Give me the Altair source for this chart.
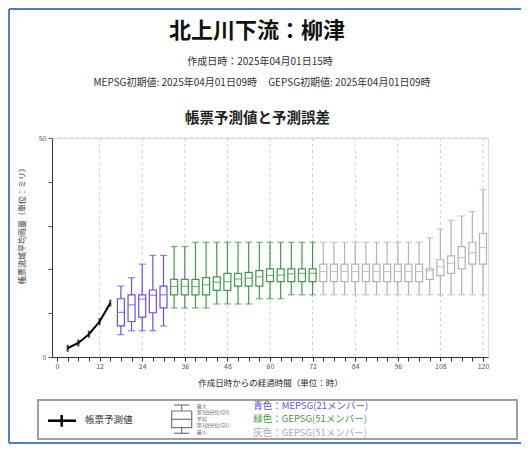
import altair as alt
import pandas as pd

# ---- data ----
OBS_HOURS = [3, 6, 9, 12, 15]
OBS_VALUES = [2.0, 3.2, 5.2, 8.1, 12.3]

BOX_HOURS = list(range(18, 121, 3))
BOX_GROUP = ["MEPSG"] * 5 + ["GEPSG"] * 14 + ["GEPSG2"] * 16
BOX_MAX = [16.2, 18.1, 21.2, 23.2, 23.2,
           25.2, 25.2, 26.2, 26.2, 26.2, 26.2, 26.2, 26.2, 26.2, 26.2, 26.2, 26.2, 26.2, 26.2,
           26.2, 26.2, 26.2, 26.2, 26.2, 26.2, 26.2, 26.2, 26.2, 26.2, 27.2, 29.2, 31.2, 32.2, 33.2, 38.2]
BOX_Q3 = [13.3, 14.2, 14.2, 15.3, 16.2,
          17.7, 17.7, 17.7, 18.1, 18.3, 19.1, 19.1, 19.3, 19.7, 20.1, 20.1, 20.1, 20.1, 20.1,
          21.2, 21.2, 21.2, 21.2, 21.2, 21.2, 21.2, 21.2, 21.2, 21.2, 20.1, 22.2, 23.1, 25.2, 26.2, 28.2]
BOX_MED = [10.2, 11.9, 13.2, 14.1, 14.2,
           16.1, 16.1, 16.1, 16.5, 17.1, 17.2, 17.8, 18.0, 18.3, 18.6, 18.7, 19.0, 19.1, 19.1,
           19.5, 19.5, 19.5, 19.5, 19.5, 19.5, 19.5, 19.5, 19.5, 19.5, 19.7, 20.6, 21.4, 22.7, 23.8, 25.0]
BOX_Q1 = [7.1, 8.1, 9.1, 10.1, 11.2,
          14.2, 14.2, 14.2, 14.2, 15.2, 15.2, 16.2, 16.2, 16.2, 17.2, 17.2, 17.2, 17.2, 17.2,
          17.2, 17.2, 17.2, 17.2, 17.2, 17.2, 17.2, 17.2, 17.2, 17.2, 17.7, 18.6, 19.1, 20.1, 21.2, 21.2]
BOX_MIN = [5.1, 6.0, 6.0, 6.0, 7.1,
           11.2, 11.2, 11.2, 11.2, 12.1, 12.1, 12.1, 12.1, 13.3, 13.3, 13.3, 14.2, 14.2, 14.2,
           14.2, 14.2, 14.2, 14.2, 14.2, 14.2, 14.2, 14.2, 14.2, 14.2, 14.2, 14.2, 14.2, 14.2, 14.2, 14.2]

GRID_X = list(range(12, 121, 12))
GRID_Y = [50]
X_TICKS = list(range(0, 121, 3))
Y_TICKS = list(range(0, 51, 10))

GROUPS = ["MEPSG", "GEPSG", "GEPSG2"]
GROUP_COLORS = ["#6a4fe6", "#3f9a4c", "#b3b3b3"]

FONT = "Noto Sans CJK JP"
NB = "\u00a0"

obs = pd.DataFrame({"hour": OBS_HOURS, "value": OBS_VALUES})
box = pd.DataFrame({"hour": BOX_HOURS, "group": BOX_GROUP, "mx": BOX_MAX, "q3": BOX_Q3,
                    "med": BOX_MED, "q1": BOX_Q1, "mn": BOX_MIN})
one = pd.DataFrame({"k": [0]})

xscale = alt.Scale(domain=[0, 120], nice=False)
yscale = alt.Scale(domain=[0, 50], nice=False)
xaxis = alt.Axis(values=X_TICKS, labelExpr="datum.value % 12 == 0 ? datum.label : ''",
                 grid=False, tickSize=4, labelFontSize=7, labelColor="#555", labelPadding=1,
                 domainColor="#333", tickColor="#333", titleFontSize=8.5, titleFontWeight="normal",
                 titleColor="#222", titlePadding=9, labelFlush=False)
yaxis = alt.Axis(values=Y_TICKS, labelExpr="datum.value == 0 || datum.value == 50 ? datum.label : ''",
                 grid=False, tickSize=4, labelFontSize=7, labelColor="#555", labelPadding=2,
                 domainColor="#333", tickColor="#555", title=None)
XT = "作成日時からの経過時間（単位：時）"

X = alt.X("hour:Q", scale=xscale, axis=xaxis, title=XT)
color = alt.Color("group:N", scale=alt.Scale(domain=GROUPS, range=GROUP_COLORS), legend=None)

gridx = alt.Chart(pd.DataFrame({"hour": GRID_X})).mark_rule(
    color="#cfcfcf", strokeDash=[3, 3], strokeWidth=1).encode(x=X)
gridy = alt.Chart(pd.DataFrame({"v": GRID_Y})).mark_rule(
    color="#cfcfcf", strokeDash=[3, 3], strokeWidth=1).encode(
    y=alt.Y("v:Q", scale=yscale, axis=yaxis), x=alt.value(0), x2=alt.value(436))

base = alt.Chart(box)
whisk = base.mark_rule(strokeWidth=1.2).encode(
    x=X, y=alt.Y("mn:Q", scale=yscale, axis=yaxis), y2="mx:Q", color=color)
boxes = base.mark_bar(size=7, fill="white", strokeWidth=1.2).encode(
    x=X, y=alt.Y("q1:Q", scale=yscale, axis=yaxis), y2="q3:Q", stroke=color)
med = base.mark_tick(orient="horizontal", size=7, thickness=1.2).encode(
    x=X, y=alt.Y("med:Q", scale=yscale, axis=yaxis), color=color)
capmax = base.mark_tick(orient="horizontal", size=7, thickness=1.2).encode(
    x=X, y=alt.Y("mx:Q", scale=yscale, axis=yaxis), color=color)
capmin = base.mark_tick(orient="horizontal", size=7, thickness=1.2).encode(
    x=X, y=alt.Y("mn:Q", scale=yscale, axis=yaxis), color=color)

obs_line = alt.Chart(obs).mark_line(color="black", strokeWidth=2).encode(
    x=X, y=alt.Y("value:Q", scale=yscale, axis=yaxis))
obs_tick = alt.Chart(obs).mark_tick(orient="vertical", size=7, thickness=2.2, color="black").encode(
    x=X, y=alt.Y("value:Q", scale=yscale, axis=yaxis))


def txt(s, x, y, size, color="#222", weight="normal", align="center", angle=None):
    kw = dict(text=s, fontSize=size, color=color, fontWeight=weight, align=align,
              baseline="middle", font=FONT)
    if angle is not None:
        kw["angle"] = angle
    return alt.Chart(one).mark_text(**kw).encode(x=alt.value(x), y=alt.value(y))


def rule(x, y, x2, y2, color, w):
    return alt.Chart(one).mark_rule(color=color, strokeWidth=w).encode(
        x=alt.value(x), y=alt.value(y), x2=alt.value(x2), y2=alt.value(y2))


texts = [
    txt("北上川下流：柳津", 205, -107, 22, "#111", "bold"),
    txt("作成日時：2025年04月01日15時", 208, -76.5, 10, "#333"),
    txt("MEPSG初期値: 2025年04月01日09時" + NB * 5 + "GEPSG初期値: 2025年04月01日09時",
        210, -55.5, 10, "#333"),
    txt("帳票予測値と予測誤差", 205.5, -19, 14.5, "#222", "bold"),
    txt("帳票流域平均雨量（単位：ミリ）", -29, 86, 8, "#333", angle=270),
    txt("帳票予測値", 33, 282, 9.5, "#333", align="left"),
    txt("最大", 144.7, 267.7, 5, "#666", align="left"),
    txt("第3四分位(Q3)", 144.7, 274.2, 5, "#666", align="left"),
    txt("平均", 144.7, 280.7, 5, "#666", align="left"),
    txt("第1四分位(Q1)", 144.7, 287.2, 5, "#666", align="left"),
    txt("最小", 144.7, 293.7, 5, "#666", align="left"),
    txt("青色：MEPSG(21メンバー)", 201.3, 268, 9.5, GROUP_COLORS[0], align="left"),
    txt("緑色：GEPSG(51メンバー)", 201.3, 281.3, 9.5, GROUP_COLORS[1], align="left"),
    txt("灰色：GEPSG(51メンバー)", 201.3, 294.5, 9.5, "#aaaaaa", align="left"),
]

legend_box = alt.Chart(one).mark_rect(fill="white", stroke="#a0a0a0", strokeWidth=2).encode(
    x=alt.value(-14), x2=alt.value(465), y=alt.value(262), y2=alt.value(301))
icon_box = alt.Chart(one).mark_rect(fill="white", stroke="#777", strokeWidth=1.2).encode(
    x=alt.value(119.7), x2=alt.value(139.7), y=alt.value(273), y2=alt.value(289.7))
deco = [
    rule(-4, 282.7, 24, 282.7, "black", 2.5),
    rule(9.7, 277, 9.7, 288.7, "black", 2.5),
    rule(129.7, 267, 129.7, 273, "#777", 1.2),
    rule(129.7, 289.7, 129.7, 295.3, "#777", 1.2),
    rule(122, 267, 137.3, 267, "#777", 1.2),
    rule(122, 295.3, 137.3, 295.3, "#777", 1.2),
    rule(119.7, 281.3, 139.7, 281.3, "#777", 1.2),
    # outer frame
    rule(-43, -129, -43, 305, "#4f7fc8", 2),
    rule(-43, -129, 469, -129, "#4f7fc8", 2),
    rule(-43, 305, 469, 305, "#4f7fc8", 2),
]

chart = alt.layer(
    gridx, gridy, whisk, boxes, med, capmax, capmin, obs_line, obs_tick,
    legend_box, icon_box, *deco, *texts
).properties(
    width=436, height=219,
    padding={"left": 44, "top": 130, "right": 33, "bottom": 87},
    autosize=alt.AutoSizeParams(type="none"),
).configure_view(stroke=None).configure(font=FONT)

chart.save("out.html", embed_options={"renderer": "svg", "actions": False})
